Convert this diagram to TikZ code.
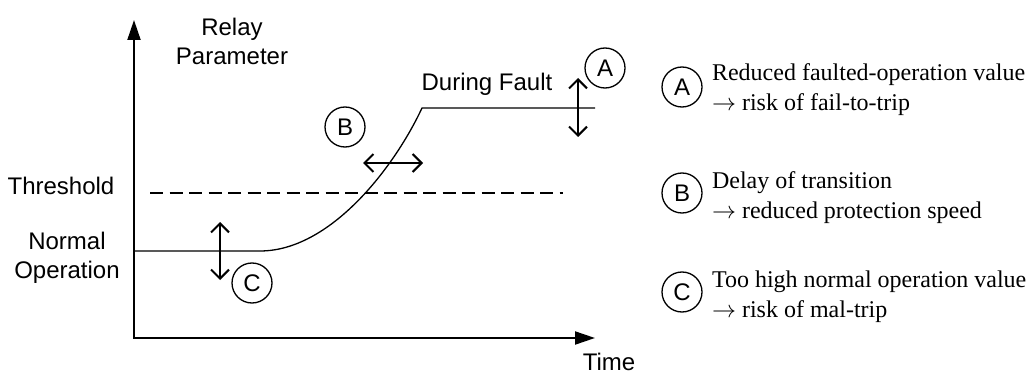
\documentclass[tikz,border=0pt]{standalone}
\usepackage{fontspec}
\setmainfont{Liberation Serif}
\setsansfont{Liberation Sans}
\usetikzlibrary{arrows.meta, positioning}

\tikzset{
	axis/.style={line width=1pt, line join=miter},
	signal/.style={line width=0.65pt},
	thr/.style={line width=0.55pt, dash pattern=on 6.5pt off 3.25pt},
	dev/.style={line width=1pt, {Straight Barb[length=4.5pt,width=9pt]}-{Straight Barb[length=4.5pt,width=9pt]}},
	tag/.style={circle, draw, line width=0.65pt, minimum size=20pt, inner sep=0pt, font=\sffamily\fontsize{12}{14}\selectfont},
	lbl/.style={inner sep=0pt, align=center, font=\sffamily\fontsize{12}{14.5}\selectfont},
	note/.style={inner sep=0pt, align=left, font=\fontsize{12}{15}\selectfont},
}

\begin{document}
\begin{tikzpicture}[x=0.5pt, y=-0.5pt]
	\useasboundingbox (0,0) rectangle (1034,374);
	% axes
	\coordinate (O) at (134,338);
	\coordinate (ytop) at (134,20);
	\coordinate (xend) at (595,338);
	\draw[axis, {Triangle[length=10pt,width=6.5pt]}-{Triangle[length=10pt,width=6.5pt]}] (ytop) -- (O) -- (xend);
	\node[lbl] (par) at (232,41) {Relay\\Parameter};
	\node[lbl] (time) at (609,362) {Time};

	% threshold level
	\coordinate (th0) at (150,193);
	\coordinate (th1) at (563,193);
	\draw[thr] (th0) -- (th1);
	\node[lbl] (thres) at (61,186) {Threshold};

	% parameter trace
	\coordinate (n0) at (134,251);
	\coordinate (n1) at (260,251);
	\coordinate (f0) at (422,108);
	\coordinate (f1) at (595,108);
	\draw[signal] (n0) -- (n1) .. controls (330,251) and (394,168) .. (f0) -- (f1);
	\node[lbl] (normal) at (67,258) {Normal\\Operation};
	\node[lbl] (fault) at (487,84) {During Fault};

	% deviations
	\coordinate (a0) at (578,78);
	\coordinate (a1) at (578,137);
	\coordinate (b0) at (363,163);
	\coordinate (b1) at (423,163);
	\coordinate (c0) at (220,222);
	\coordinate (c1) at (220,280);
	\draw[dev] (a0) -- (a1);
	\draw[dev] (b0) -- (b1);
	\draw[dev] (c0) -- (c1);
	\node[tag] (tagA) at (605,68) {A};
	\node[tag] (tagB) at (345,127) {B};
	\node[tag] (tagC) at (252,283) {C};

	% legend
	\node[tag] (keyA) at (682,87) {A};
	\node[tag] (keyB) at (682,193) {B};
	\node[tag] (keyC) at (682,292) {C};
	\node[note, right=4.5pt of keyA, yshift=-1.5pt] (noteA) {Reduced faulted-operation value\\$\rightarrow$ risk of fail-to-trip};
	\node[note, right=4.5pt of keyB, yshift=-2.5pt] (noteB) {Delay of transition\\$\rightarrow$ reduced protection speed};
	\node[note, right=4.5pt of keyC, yshift=-2.5pt] (noteC) {Too high normal operation value\\$\rightarrow$ risk of mal-trip};
\end{tikzpicture}
\end{document}
